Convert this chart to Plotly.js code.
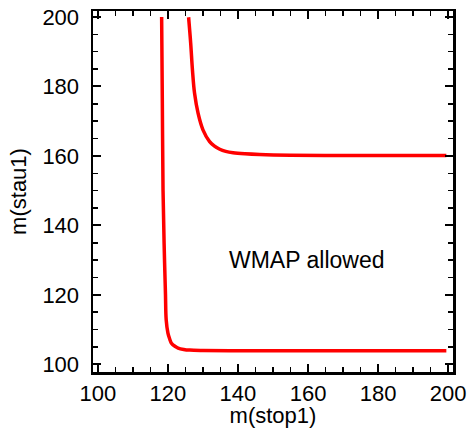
<!DOCTYPE html>
<html>
<head>
<meta charset="utf-8">
<script src="https://cdn.plot.ly/plotly-3.0.1.min.js"></script>
<style>html,body{margin:0;padding:0;background:#fff;}#chart{width:469px;height:428px;}</style>
</head>
<body>
<div id="chart"></div>
<script>
// Lower/left WMAP boundary
const stopLower = [118.2, 118.4, 118.6, 118.9, 119.1, 119.3, 119.5, 120.0, 120.5, 121.0, 122.0, 122.9, 124.5, 126.2, 130.0, 137.6, 150.0, 175.0, 199.5];
const stauLower = [200.0, 175.0, 150.0, 135.0, 127.2, 120.0, 112.8, 109.0, 107.3, 106.1, 105.2, 104.7, 104.3, 104.1, 104.0, 103.95, 103.95, 103.95, 103.95];
// Upper/right WMAP boundary
const stopUpper = [125.9, 126.5, 127.0, 127.6, 128.6, 130.0, 131.9, 133.2, 134.8, 136.5, 138.6, 142.0, 146.2, 155.0, 170.0, 185.0, 199.5];
const stauUpper = [199.9, 192.4, 184.7, 178.0, 172.3, 167.5, 164.1, 162.9, 161.9, 161.3, 160.9, 160.6, 160.4, 160.2, 160.1, 160.1, 160.1];
const xTicks = [100, 120, 140, 160, 180, 200];
const yTicks = [100, 120, 140, 160, 180, 200];
const label = "WMAP allowed";
const labelPos = [159.6, 130.1];

const font = {family: "Liberation Sans, Arial, Helvetica, sans-serif", size: 22, color: "#000"};
const lineStyle = {color: "#ff0000", width: 3.5, shape: "spline", smoothing: 1};

const traces = [
  {x: stopLower, y: stauLower, mode: "lines", line: lineStyle, hoverinfo: "skip"},
  {x: stopUpper, y: stauUpper, mode: "lines", line: lineStyle, hoverinfo: "skip"}
];

function axis(range, ticks, titleText, labelStandoff, titleStandoff) {
  return {
    range: range,
    tickmode: "array",
    tickvals: ticks,
    ticktext: ticks.map(String),
    ticks: "inside",
    ticklen: 8,
    tickwidth: 2,
    tickcolor: "#000",
    ticklabelstandoff: labelStandoff,
    minor: {ticks: "inside", dtick: 5, tick0: 100, ticklen: 5, tickwidth: 1.5, tickcolor: "#000", showgrid: false},
    showline: true,
    linewidth: 2.5,
    linecolor: "#000",
    mirror: "ticks",
    showgrid: false,
    zeroline: false,
    tickfont: font,
    title: {text: titleText, font: font, standoff: titleStandoff}
  };
}

const layout = {
  width: 469,
  height: 428,
  margin: {l: 93, r: 16, t: 11, b: 56},
  paper_bgcolor: "#fff",
  plot_bgcolor: "#fff",
  showlegend: false,
  xaxis: axis([98.6, 201.4], xTicks, "m(stop1)", 0, 8),
  yaxis: axis([97.8, 201.7], yTicks, "m(stau1)", 7, 10),
  annotations: [{
    x: labelPos[0], y: labelPos[1], xref: "x", yref: "y",
    text: label, showarrow: false,
    font: {family: font.family, size: 23, color: "#000"}
  }]
};

Plotly.newPlot("chart", traces, layout, {displayModeBar: false, staticPlot: true});
</script>
</body>
</html>
